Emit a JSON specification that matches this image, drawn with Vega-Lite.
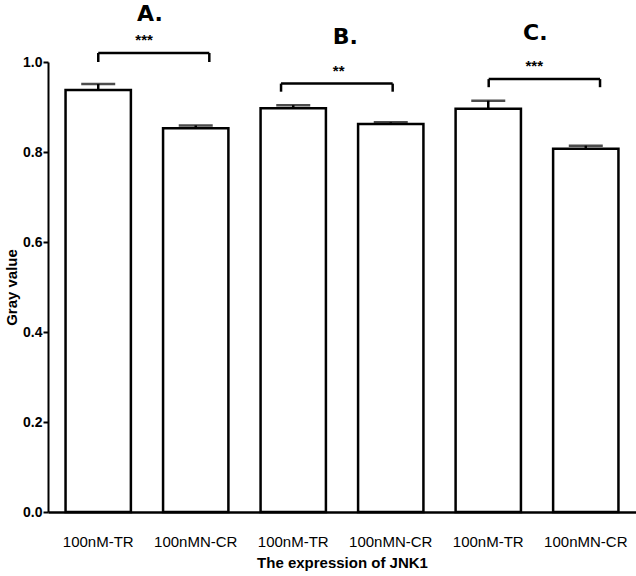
{
  "$schema": "https://vega.github.io/schema/vega-lite/v6.json",
  "width": 588,
  "height": 450,
  "autosize": {"type": "none"},
  "padding": {"left": 48, "top": 62, "right": 0, "bottom": 64},
  "background": "white",
  "config": {"view": {"stroke": null}},
  "datasets": {
    "bars": [
      {"cat": "100nM-TR|A", "value": 0.938, "upper": 0.951},
      {"cat": "100nMN-CR|A", "value": 0.853, "upper": 0.859},
      {"cat": "100nM-TR|B", "value": 0.897, "upper": 0.904},
      {"cat": "100nMN-CR|B", "value": 0.862, "upper": 0.866},
      {"cat": "100nM-TR|C", "value": 0.896, "upper": 0.914},
      {"cat": "100nMN-CR|C", "value": 0.807, "upper": 0.814}
    ],
    "brackets": [
      {"x1": 0.513, "x2": 1.646, "y": 1.02, "ytip": 1.0},
      {"x1": 2.378, "x2": 3.517, "y": 0.952, "ytip": 0.934},
      {"x1": 4.497, "x2": 5.633, "y": 0.962, "ytip": 0.944}
    ],
    "stars": [
      {"x": 0.98, "y": 1.058, "text": "***"},
      {"x": 2.966, "y": 0.99, "text": "**"},
      {"x": 4.962, "y": 1.0, "text": "***"}
    ],
    "letters": [
      {"x": 1.04, "y": 1.092, "text": "A."},
      {"x": 3.034, "y": 1.041, "text": "B."},
      {"x": 4.973, "y": 1.05, "text": "C."}
    ]
  },
  "layer": [
    {
      "data": {"name": "bars"},
      "encoding": {
        "x": {
          "field": "cat",
          "type": "nominal",
          "sort": null,
          "scale": {"paddingInner": 0.33, "paddingOuter": 0.18},
          "axis": {
            "title": "The expression of JNK1",
            "labelExpr": "split(datum.label, '|')[0]",
            "labelAngle": 0,
            "labelFont": "Liberation Sans",
            "labelFontSize": 15,
            "labelColor": "black",
            "labelPadding": 22,
            "ticks": false,
            "domainColor": "black",
            "domainWidth": 2.5,
            "titleFont": "Liberation Sans",
            "titleFontSize": 15,
            "titleFontWeight": "bold",
            "titleColor": "black",
            "titlePadding": 6
          }
        }
      },
      "layer": [
        {
          "mark": {"type": "bar", "fill": "white", "stroke": "black", "strokeWidth": 2.5},
          "encoding": {
            "y": {
              "field": "value",
              "type": "quantitative",
              "scale": {"domain": [0, 1], "nice": false},
              "axis": {
                "title": "Gray value",
                "values": [0, 0.2, 0.4, 0.6, 0.8, 1.0],
                "format": ".1f",
                "grid": false,
                "labelFont": "Liberation Sans",
                "labelFontSize": 14,
                "labelFontWeight": "bold",
                "labelColor": "black",
                "labelPadding": 1,
                "tickSize": 5,
                "tickWidth": 2,
                "tickColor": "black",
                "domainColor": "black",
                "domainWidth": 2,
                "titleFont": "Liberation Sans",
                "titleFontSize": 15,
                "titleFontWeight": "bold",
                "titleColor": "black",
                "titlePadding": 3
              }
            }
          }
        },
        {
          "mark": {"type": "rule", "stroke": "black", "strokeWidth": 2.5},
          "encoding": {
            "y": {"field": "value", "type": "quantitative"},
            "y2": {"field": "upper"}
          }
        },
        {
          "mark": {"type": "tick", "color": "black", "size": 34, "thickness": 2.5},
          "encoding": {
            "y": {"field": "upper", "type": "quantitative"}
          }
        }
      ]
    },
    {
      "layer": [
        {
          "data": {"name": "brackets"},
          "mark": {"type": "rule", "stroke": "black", "strokeWidth": 2.5},
          "encoding": {
            "x": {"field": "x1", "type": "quantitative", "scale": {"domain": [0, 6], "nice": false}, "axis": null},
            "x2": {"field": "x2"},
            "y": {"field": "y", "type": "quantitative"}
          }
        },
        {
          "data": {"name": "brackets"},
          "mark": {"type": "rule", "stroke": "black", "strokeWidth": 2.5},
          "encoding": {
            "x": {"field": "x1", "type": "quantitative"},
            "y": {"field": "y", "type": "quantitative"},
            "y2": {"field": "ytip"}
          }
        },
        {
          "data": {"name": "brackets"},
          "mark": {"type": "rule", "stroke": "black", "strokeWidth": 2.5},
          "encoding": {
            "x": {"field": "x2", "type": "quantitative"},
            "y": {"field": "y", "type": "quantitative"},
            "y2": {"field": "ytip"}
          }
        },
        {
          "data": {"name": "stars"},
          "mark": {"type": "text", "font": "Liberation Sans", "fontWeight": "bold", "fontSize": 15, "baseline": "alphabetic", "align": "center", "dy": 9, "color": "black"},
          "encoding": {
            "x": {"field": "x", "type": "quantitative"},
            "y": {"field": "y", "type": "quantitative"},
            "text": {"field": "text"}
          }
        },
        {
          "data": {"name": "letters"},
          "mark": {"type": "text", "font": "DejaVu Sans", "fontWeight": "bold", "fontSize": 22, "baseline": "alphabetic", "align": "center", "color": "black"},
          "encoding": {
            "x": {"field": "x", "type": "quantitative"},
            "y": {"field": "y", "type": "quantitative"},
            "text": {"field": "text"}
          }
        }
      ]
    }
  ],
  "resolve": {"scale": {"x": "independent"}, "axis": {"x": "independent"}}
}
